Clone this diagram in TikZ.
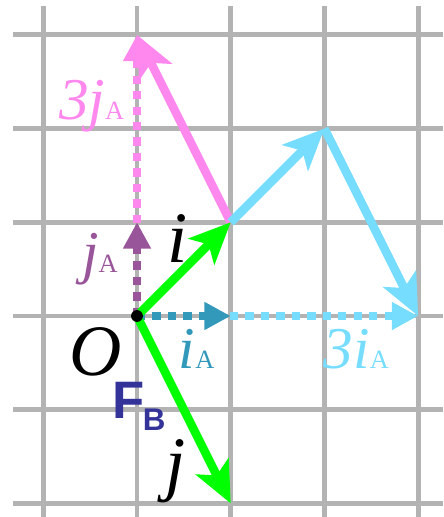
\documentclass[tikz,border=0pt]{standalone}
\usepackage{fontspec}
\setmainfont{Liberation Serif}
\newfontfamily\labelsans{Liberation Sans}
\usetikzlibrary{arrows.meta}
\definecolor{gridgray}{RGB}{179,179,179}
\definecolor{vecgreen}{RGB}{0,255,0}
\definecolor{vecpink}{RGB}{255,136,238}
\definecolor{veccyan}{RGB}{119,221,255}
\definecolor{basisteal}{RGB}{51,153,187}
\definecolor{basispurple}{RGB}{153,85,153}
\definecolor{fbblue}{RGB}{51,51,153}
\newcommand{\sA}{{\upshape\fontsize{8}{8}\selectfont A}}

\begin{document}
\begin{tikzpicture}[>=Stealth,
  gridline/.style={draw=gridgray, line width=1.5pt},
  vec/.style={line width=2.6pt, -{Stealth[length=12.5pt,width=11pt,inset=3pt]}},
  basis/.style={line width=2.3pt, dash pattern=on 2.5pt off 2.2pt, -{Triangle[length=8pt,width=8pt]}},
  lbl/.style={inner sep=0pt, font=\fontsize{18}{18}\selectfont\itshape},
  biglbl/.style={inner sep=0pt, font=\fontsize{22}{22}\selectfont\itshape}]
\useasboundingbox (-1.462,-2.145) rectangle (3.266,3.372);
\foreach \x in {-1,...,3} \draw[gridline] (\x,-2.145) -- (\x,3.31);
\foreach \y in {-2,...,3} \draw[gridline] (-1.32,\y) -- (3.266,\y);

\coordinate (O) at (0,0);
\coordinate (iA) at (1,0);
\coordinate (jA) at (0,1);
\coordinate (iA3) at (3,0);
\coordinate (jA3) at (0,3);
\coordinate (i) at (1,1);
\coordinate (j) at (1,-2);
\coordinate (top) at (2,2);

\draw[basis, vecpink] (O) -- (jA3);
\draw[basis, basispurple] (O) -- (jA);
\draw[basis, veccyan] (O) -- (iA3);
\draw[basis, basisteal] (O) -- (iA);
\draw[vec, vecpink] (i) -- (jA3);
\draw[vec, vecgreen] (O) -- (i);
\draw[vec, vecgreen] (O) -- (j);
\draw[vec, veccyan] (i) -- (top);
\draw[vec, veccyan] (top) -- (iA3);
\fill (O) circle (1.8pt);

\node[lbl, text=vecpink, anchor=base east] (lbl3jA) at (-0.13,2.10) {3j\sA};
\node[lbl, text=basispurple, anchor=base east] (lbljA) at (-0.20,0.46) {j\sA};
\node[biglbl, anchor=base west] (lbli) at (0.32,0.576) {i};
\node[biglbl, anchor=base east] (lblO) at (-0.15,-0.63) {O};
\node[lbl, text=basisteal, anchor=base west] (lbliA) at (0.44,-0.555) {i\sA};
\node[lbl, text=veccyan, anchor=base west] (lbl3iA) at (1.985,-0.555) {3i\sA};
\node[biglbl, anchor=base east] (lblj) at (0.53,-1.825) {j};
\node[anchor=base west, inner sep=0pt, text=fbblue, font=\labelsans\bfseries\fontsize{16}{16}\selectfont] (lblFB) at (-0.27,-1.09) {F\kern-0.5pt\raisebox{-3.8pt}{\fontsize{9.5}{9.5}\selectfont B}};
\end{tikzpicture}
\end{document}
